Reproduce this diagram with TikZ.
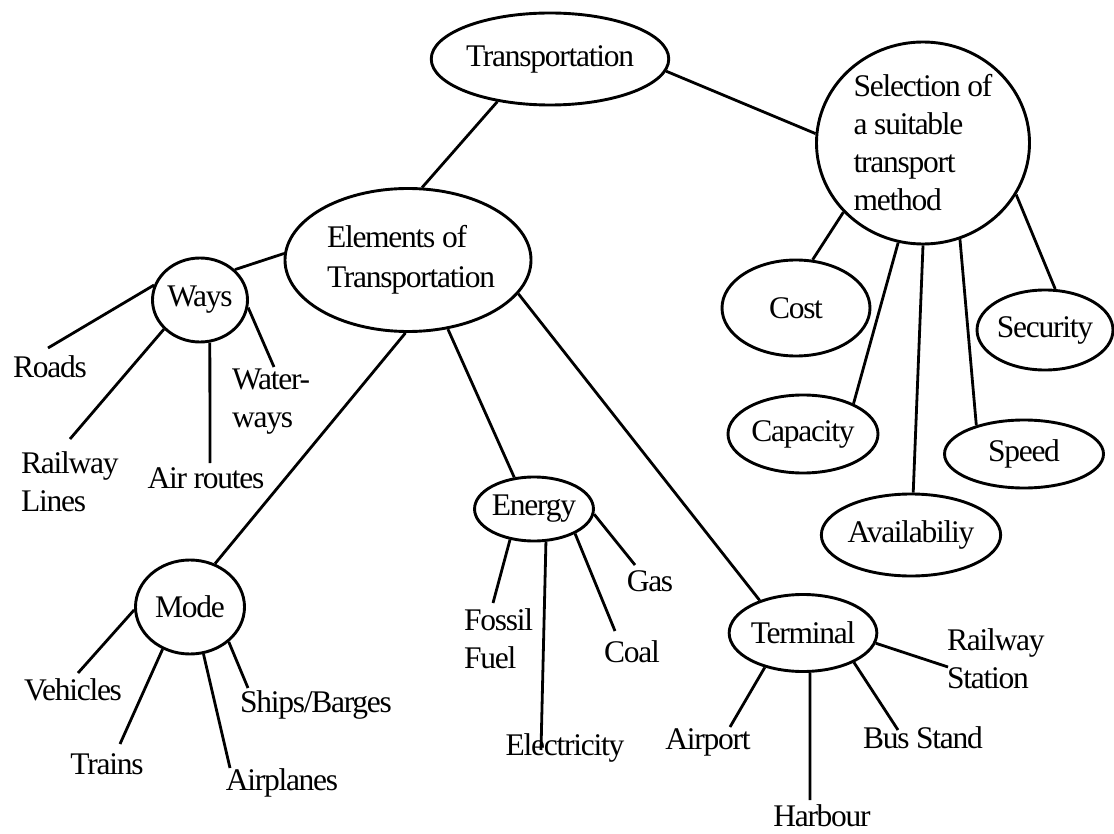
\documentclass[tikz,border=0pt]{standalone}
\usepackage{fontspec}
\setmainfont{Liberation Serif}[LetterSpace=-4]
\usetikzlibrary{shapes.geometric}
\begin{document}
\begin{tikzpicture}[x=1pt,y=-1pt,
  every node/.style={font=\fontsize{31.5}{38}\selectfont, inner sep=0pt},
  bubble/.style={ellipse, draw, line width=2.9pt},
  link/.style={line width=2.8pt}]
\useasboundingbox (0,0) rectangle (1114,834);

% main bubbles
\node[bubble, minimum width=200, minimum height=92] (trans) at (550,59) {Transportation};
\node[bubble, minimum width=208, minimum height=143, align=left,
      font=\fontsize{31.5}{40}\selectfont] (elem) at (408,260) {\hspace*{6pt}Elements of\\\hspace*{6pt}Transportation};
\node[bubble, minimum width=213, minimum height=202, align=left] (sel) at (923,143)
      {Selection of\\a suitable\\transport\\method};

% sub bubbles
\node[bubble, minimum width=95, minimum height=84] (ways) at (200,300) {Ways};
\node[bubble, minimum width=109, minimum height=94] (mode) at (190,607) {Mode};
\node[bubble, minimum width=117, minimum height=64] (energy) at (534,509) {Energy};
\node[bubble, minimum width=137, minimum height=77] (term) at (803,633) {Terminal};
\node[bubble, minimum width=148, minimum height=96] (cost) at (796,308) {Cost};
\node[bubble, minimum width=134, minimum height=80] (secu) at (1045,330) {Security};
\node[bubble, minimum width=150, minimum height=78] (capa) at (803,434) {Capacity};
\node[bubble, minimum width=159, minimum height=68] (speed) at (1024,454) {Speed};
\node[bubble, minimum width=151, minimum height=82] (avail) at (911,535) {Availabiliy};

% leaf labels
\node (roads) at (50,367) {Roads};
\node[align=left, anchor=west] (rail) at (21,482) {Railway\\Lines};
\node (air) at (206,478) {Air routes};
\node[align=left, anchor=west] (water) at (232,402) {Water-\\ways};
\node (veh) at (73,690) {Vehicles};
\node (trains) at (107,764) {Trains};
\node (planes) at (282,783) {Airplanes};
\node (ships) at (316,705) {Ships/Barges};
\node[align=left, anchor=west] (fossil) at (464,639) {Fossil\\Fuel};
\node (elec) at (565,748) {Electricity};
\node (coal) at (632,652) {Coal};
\node (gas) at (650,581) {Gas};
\node[align=left, anchor=west] (rstat) at (947,659) {Railway\\Station};
\node (bus) at (923,738) {Bus Stand};
\node (harb) at (822,816) {Harbour};
\node (airport) at (708,742) {Airport};

% free ends of the leaf connectors
\coordinate (roadsE) at (48,348);
\coordinate (railE) at (70,439);
\coordinate (airE) at (210,463);
\coordinate (waterE) at (274,367);
\coordinate (vehE) at (78,673);
\coordinate (trainsE) at (120,744);
\coordinate (planesE) at (230,768);
\coordinate (shipsE) at (248,688);
\coordinate (fossilE) at (493,603);
\coordinate (elecE) at (541,750);
\coordinate (coalE) at (615,631);
\coordinate (gasE) at (635,565);
\coordinate (rstatE) at (948,667);
\coordinate (busE) at (898,730);
\coordinate (harbE) at (810,800);
\coordinate (airportE) at (730,727);

% tree connectors
\draw[link] (trans.219.4) -- (elem.79);
\draw[link] (trans.-6) -- (sel.175);
\draw[link] (elem.177) -- (ways.41);
\draw[link] (elem.-92) -- (mode.60);
\draw[link] (elem.-60.5) -- (energy.122);
\draw[link] (elem.-17) -- (term.143);
\draw[link] (sel.221) -- (cost.71);
\draw[link] (sel.-104.3) -- (capa.31.5);
\draw[link] (sel.-90) -- (avail.87);
\draw[link] (sel.-69.4) -- (speed.149);
\draw[link] (sel.-29.6) -- (secu.76);

\draw[link] (ways.162) -- (roadsE);
\draw[link] (ways.-141) -- (railE);
\draw[link] (ways.-77) -- (airE);
\draw[link] (ways.-9.5) -- (waterE);
\draw[link] (mode.183) -- (vehE);
\draw[link] (mode.-123.7) -- (trainsE);
\draw[link] (mode.-74) -- (planesE);
\draw[link] (mode.-42) -- (shipsE);
\draw[link] (energy.-128) -- (fossilE);
\draw[link] (energy.-70.6) -- (elecE);
\draw[link] (energy.-31) -- (coalE);
\draw[link] (energy.-5.6) -- (gasE);
\draw[link] (term.-8) -- (rstatE);
\draw[link] (term.-30) -- (busE);
\draw[link] (term.-80) -- (harbE);
\draw[link] (term.-138) -- (airportE);
\end{tikzpicture}
\end{document}
